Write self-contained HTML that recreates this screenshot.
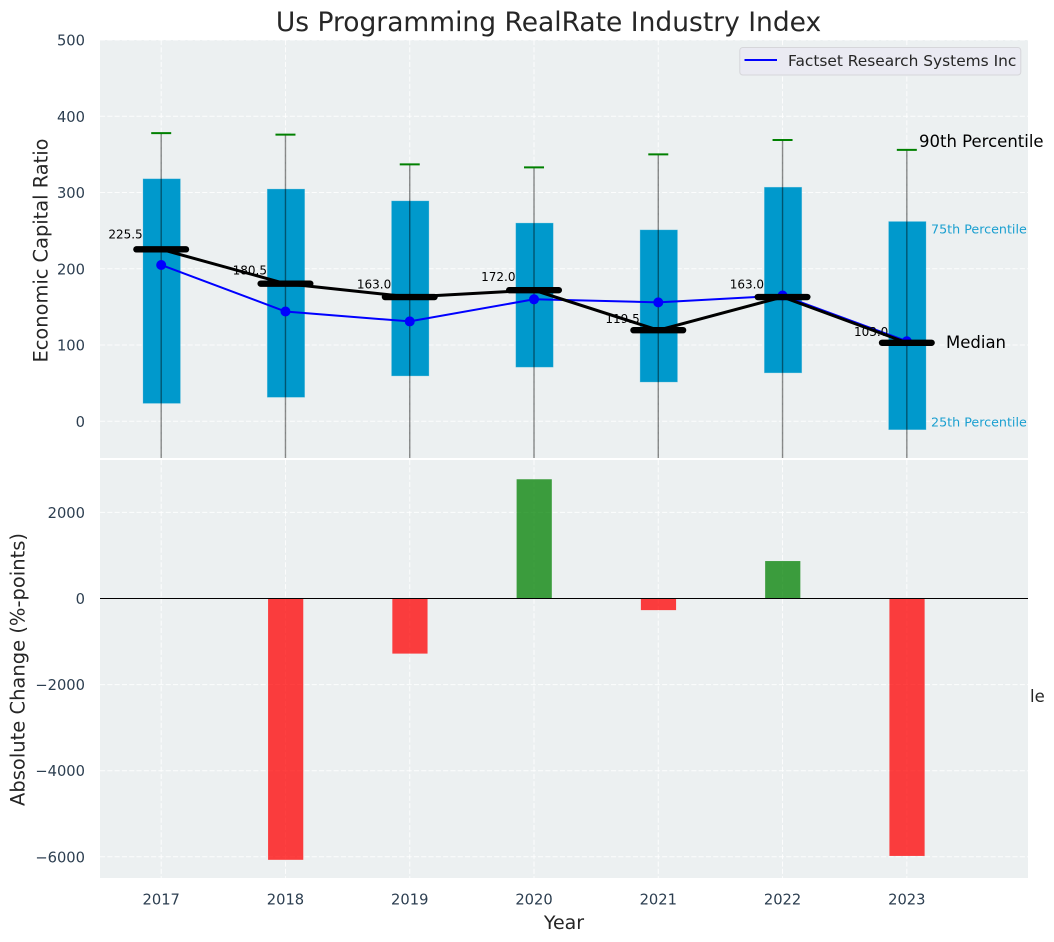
<!DOCTYPE html>
<html lang="en">
<head>
<meta charset="utf-8">
<title>Us Programming RealRate Industry Index</title>
<style>
html,body{margin:0;padding:0;background:#fff;width:1054px;height:942px;overflow:hidden}
svg{display:block;font-family:"DejaVu Sans","Liberation Sans",sans-serif}
</style>
</head>
<body>
<svg id="chart" xmlns="http://www.w3.org/2000/svg" width="1054" height="942" viewBox="0 0 1054 942">
  <defs>
    <clipPath id="top-clip"><rect x="100" y="40" width="928" height="418"/></clipPath>
    <clipPath id="bottom-clip"><rect x="100" y="460" width="928" height="418"/></clipPath>
  </defs>
  <rect width="1054" height="942" fill="#ffffff"/>
  <text x="548.5" y="31" font-size="26.5" fill="#262626" text-anchor="middle">Us Programming RealRate Industry Index</text>
  <rect x="100" y="40" width="928" height="418" fill="#ecf0f1"/>
  <rect x="100" y="460" width="928" height="418" fill="#ecf0f1"/>
  <g id="top-grid" clip-path="url(#top-clip)"></g>
  <g id="bottom-grid" clip-path="url(#bottom-clip)"></g>
  <g id="boxes" clip-path="url(#top-clip)"></g>
  <g id="company" clip-path="url(#top-clip)"></g>
  <g id="median-labels"></g>
  <g id="medians" clip-path="url(#top-clip)"></g>
  <g id="changes" clip-path="url(#bottom-clip)"></g>
  <g id="ticks"></g>
  <text transform="translate(47.5 250.5) rotate(-90)" font-size="19.4" fill="#262626" text-anchor="middle">Economic Capital Ratio</text>
  <text transform="translate(24.5 669.5) rotate(-90)" font-size="19.5" fill="#262626" text-anchor="middle">Absolute Change (%-points)</text>
  <text x="564" y="929" font-size="19" fill="#262626" text-anchor="middle">Year</text>
  <g>
    <rect x="739.8" y="47.5" width="281" height="27.5" rx="3" fill="#eaeaf2" stroke="#d6d6da" stroke-width="1"/>
    <line x1="744.5" x2="777" y1="60" y2="60" stroke="#0000ff" stroke-width="2"/>
    <text x="788" y="66" font-size="15.4" fill="#262626">Factset Research Systems Inc</text>
  </g>
  <text x="919" y="147" font-size="16.5" fill="#000000">90th Percentile</text>
  <text x="931" y="233.5" font-size="12.7" fill="#1a9fd0">75th Percentile</text>
  <text x="946" y="348" font-size="16.5" fill="#000000">Median</text>
  <text x="931" y="426.5" font-size="12.7" fill="#1a9fd0">25th Percentile</text>
  <text x="1030" y="702" font-size="16.5" fill="#262626">le</text>
</svg>
<script>
const years = [2017, 2018, 2019, 2020, 2021, 2022, 2023];
const p90 = [378, 376, 337, 333, 350, 369, 356];
const p75 = [318, 304.6, 289, 260, 251, 307, 262];
const medianValues = [225.5, 180.5, 163, 172, 119.5, 163, 103];
const p25 = [23.5, 31.5, 59.5, 71, 51.5, 63.5, -11];
const p10 = [-120, -110, -100, -95, -105, -115, -130];
const companyValues = [205, 144, 131, 160, 156, 165, 105];
const absoluteChange = [null, -6070, -1280, 2770, -270, 870, -5980];
const topTicks = [0, 100, 200, 300, 400, 500];
const bottomTicks = [-6000, -4000, -2000, 0, 2000];

const NS = 'http://www.w3.org/2000/svg';
const xScale = v => 161.2 + (v - 2017) * 124.27;
const yTop = v => 421.3 - v * 0.7625;
const yBottom = v => 598.5 - v * 0.04305;

function make(tag, parentId, props, text) {
  const el = document.createElementNS(NS, tag);
  for (const k in props) el.setAttribute(k, props[k]);
  if (text !== undefined) el.textContent = text;
  document.getElementById(parentId).appendChild(el);
  return el;
}
const gridStyle = {stroke: '#ffffff', 'stroke-width': 1, 'stroke-dasharray': '5.1 2.2', 'stroke-opacity': 0.85};

topTicks.forEach(t => {
  const l = make('line', 'top-grid', Object.assign({x1: 100, x2: 1028, y1: yTop(t), y2: yTop(t)}, gridStyle));
  
  
  const lab = make('text', 'ticks', {x: 85, y: yTop(t) + 5.5, 'font-size': 14.7, fill: '#2c3e50', 'text-anchor': 'end'}, String(t));
  
  
});
bottomTicks.forEach(t => {
  const l = make('line', 'bottom-grid', Object.assign({x1: 100, x2: 1028, y1: yBottom(t), y2: yBottom(t)}, gridStyle));
  
  
  const lab = make('text', 'ticks', {x: 85, y: yBottom(t) + 5.5, 'font-size': 14.7, fill: '#2c3e50', 'text-anchor': 'end'}, String(t).replace('-', '\u2212'));
  
  
});
years.forEach(y => {
  const a = make('line', 'top-grid', Object.assign({x1: xScale(y), x2: xScale(y), y1: 40, y2: 458}, gridStyle));
  
  
  const b = make('line', 'bottom-grid', Object.assign({x1: xScale(y), x2: xScale(y), y1: 460, y2: 878}, gridStyle));
  
  
  const lab = make('text', 'ticks', {x: xScale(y), y: 904.5, 'font-size': 14.7, fill: '#2c3e50', 'text-anchor': 'middle'}, String(y));
  
  
});

years.forEach((y, i) => {
  const cx = xScale(y);
  const box = make('rect', 'boxes', {x: cx - 18.2, y: yTop(p75[i]), width: 37.4, height: yTop(p25[i]) - yTop(p75[i]), fill: '#0099cc', stroke: '#66c2e0', 'stroke-opacity': 0.5, 'stroke-width': 0.6});
  
  
  const whisker = make('line', 'boxes', {x1: cx, x2: cx, y1: yTop(p90[i]), y2: yTop(p10[i]), stroke: '#000000', 'stroke-opacity': 0.45, 'stroke-width': 1.4});
  
  
  const cap = make('line', 'boxes', {x1: cx - 10, x2: cx + 10, y1: yTop(p90[i]), y2: yTop(p90[i]), stroke: '#008000', 'stroke-width': 2});
  
  
});

const companyPath = make('polyline', 'company', {points: years.map((y, i) => xScale(y) + ',' + yTop(companyValues[i])).join(' '), fill: 'none', stroke: '#0000ff', 'stroke-width': 2});


years.forEach((y, i) => {
  const p = make('circle', 'company', {cx: xScale(y), cy: yTop(companyValues[i]), r: 5, fill: '#0000ff'});
  
  
});

years.forEach((y, i) => {
  const lab = make('text', 'median-labels', {x: xScale(y) - 18.5, y: yTop(medianValues[i]) - (3 + 0.035 * medianValues[i]), 'font-size': 12, fill: '#000000', 'text-anchor': 'end'}, medianValues[i].toFixed(1));
  
  
});

const medianPath = make('polyline', 'medians', {points: years.map((y, i) => xScale(y) + ',' + yTop(medianValues[i])).join(' '), fill: 'none', stroke: '#000000', 'stroke-width': 3});


years.forEach((y, i) => {
  const m = make('line', 'medians', {x1: xScale(y) - 24.8, x2: xScale(y) + 24.8, y1: yTop(medianValues[i]), y2: yTop(medianValues[i]), stroke: '#000000', 'stroke-width': 6.4, 'stroke-linecap': 'round'});
  
  
});

years.forEach((y, i) => {
  const v = absoluteChange[i];
  if (v === null) return;
  const top = Math.min(yBottom(v), yBottom(0));
  const bar = make('rect', 'changes', {x: xScale(y) - 17.4, y: top, width: 35.2, height: Math.abs(yBottom(v) - yBottom(0)), fill: v >= 0 ? '#008000' : '#ff0000', 'fill-opacity': 0.75});
  
  
});
const zero = make('line', 'changes', {x1: 100, x2: 1028, y1: yBottom(0), y2: yBottom(0), stroke: '#000000', 'stroke-width': 1.1});


</script>
</body>
</html>
